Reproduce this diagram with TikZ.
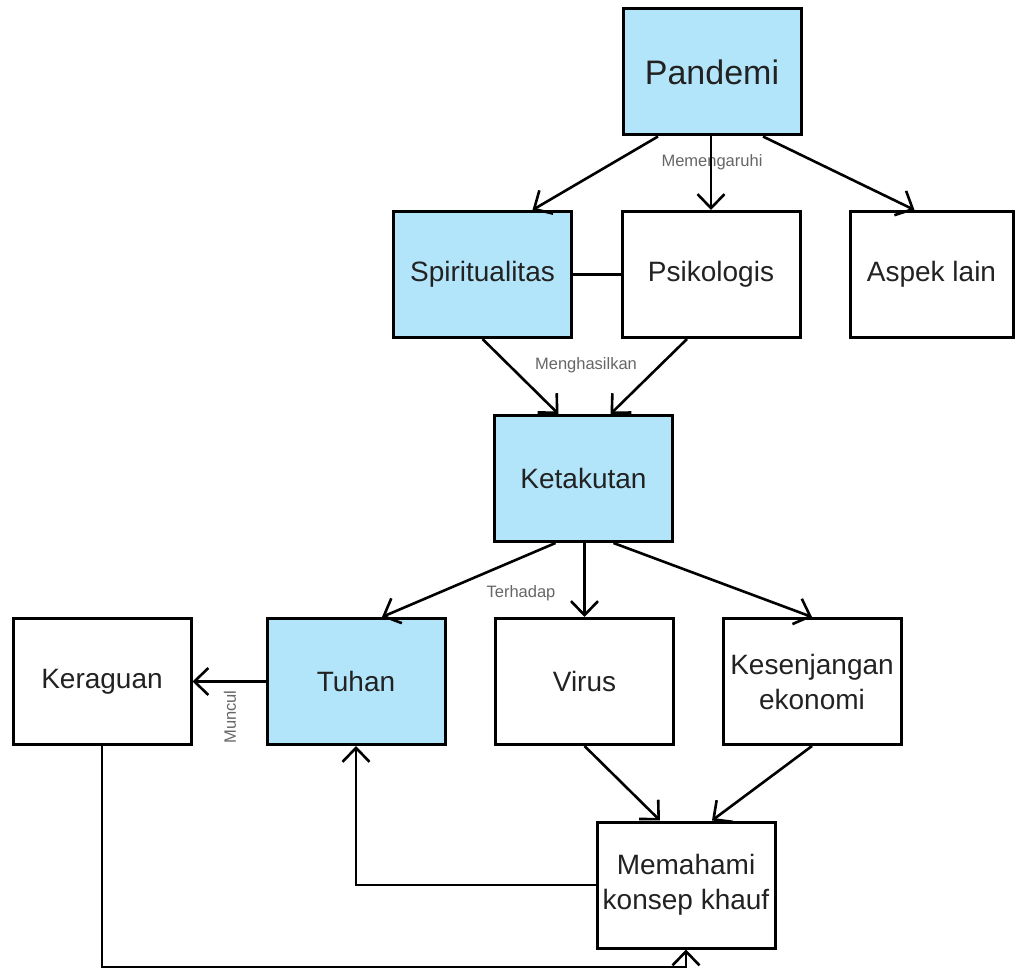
\documentclass[tikz,border=0pt]{standalone}
\usepackage{fontspec}
\setmainfont{Liberation Sans}
\usetikzlibrary{arrows.meta,calc}
\definecolor{boxblue}{RGB}{179,229,250}
\definecolor{txt}{HTML}{222222}
\definecolor{labgray}{HTML}{666666}
\begin{document}
\begin{tikzpicture}[x=1pt,y=-1pt,
  box/.style={draw=black, line width=3pt, minimum width=178pt, minimum height=126pt,
    inner sep=0pt, align=center, text=txt, font=\fontsize{28}{35}\selectfont},
  bluebox/.style={box, fill=boxblue},
  lab/.style={text=labgray, font=\fontsize{16.5}{20}\selectfont, inner sep=0pt},
  arr/.style={line width=2.6pt, -{Straight Barb[length=14pt,width=27pt]}},
  conn/.style={line width=2.6pt}]
\useasboundingbox (0,0) rectangle (1021,973);
\fill[white] (0,0) rectangle (1021,973);

% nodes
\node[bluebox, font=\fontsize{34}{40}\selectfont] (pan) at (712,72) {Pandemi};
\node[bluebox] (spir) at (482.5,274.5) {Spiritualitas};
\node[box] (psik) at (711,274.5) {Psikologis};
\node[box, minimum width=163pt] (asp) at (931.5,274.5) {Aspek lain};
\node[bluebox] (ket) at (583.5,478.5) {Ketakutan};
\node[box] (ker) at (102,681.5) {Keraguan};
\node[bluebox] (tuh) at (356,681.5) {Tuhan};
\node[box] (vir) at (584.5,681.5) {Virus};
\node[box] (kes) at (812,681.5) {Kesenjangan\\ekonomi};
\node[box] (mem) at (686,885) {Memahami\\konsep khauf};
\coordinate (low) at (0,967);

% labels
\node[lab] (l1) at (712,162) {Memengaruhi};
\node[lab] (l2) at (586,365) {Menghasilkan};
\node[lab] (l3) at (521,593) {Terhadap};
\node[lab, rotate=90] (l4) at (230,717) {Muncul};

% connectors
\draw[arr] ([xshift=-54pt]pan.south) -- ([xshift=50pt]spir.north);
\draw[arr] (pan.south -| psik.north) -- (psik.north);
\draw[arr] ([xshift=51pt]pan.south) -- ([xshift=-17pt]asp.north);
\draw[conn] (spir.east) -- (psik.west);
\draw[arr] (spir.south) -- ([xshift=-25pt]ket.north);
\draw[arr] ([xshift=-24pt]psik.south) -- ([xshift=27pt]ket.north);
\draw[arr] ([xshift=-28pt]ket.south) -- ([xshift=26pt]tuh.north);
\draw[arr] (ket.south -| vir.north) -- (vir.north);
\draw[arr] ([xshift=30pt]ket.south) -- (kes.north);
\draw[arr] (tuh.west) -- (ker.east);
\draw[arr] (vir.south) -- ([xshift=-26pt]mem.north);
\draw[arr] (kes.south) -- ([xshift=26pt]mem.north);
\draw[arr] (mem.west) -| (tuh.south);
\draw[arr] (ker.south) -- (ker.south |- low) -| (mem.south);
\end{tikzpicture}
\end{document}
